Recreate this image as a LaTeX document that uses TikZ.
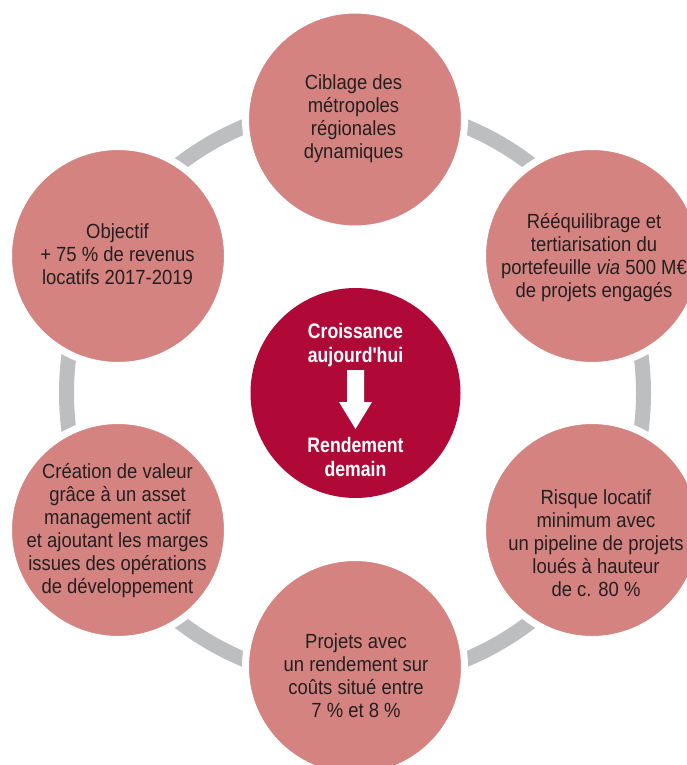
\documentclass[tikz,border=0pt]{standalone}
\usepackage{fontspec}
\setmainfont{Liberation Sans}[FakeStretch=0.9]
\newfontfamily\ctrfont{Liberation Sans}[FakeStretch=0.84]
\definecolor{bubblepink}{RGB}{213,131,128}
\definecolor{hubred}{RGB}{177,9,55}
\definecolor{ringgray}{RGB}{188,190,192}
\definecolor{textdark}{RGB}{35,31,32}
\begin{document}
\begin{tikzpicture}[x=1pt,y=-1pt,
  bubble/.style={circle, fill=bubblepink, draw=white, line width=7pt, minimum size=219pt, inner sep=0pt},
  hubstyle/.style={circle, fill=hubred, minimum size=210pt, inner sep=0pt},
  bubbletext/.style={align=center, text=textdark, inner sep=0pt, font=\fontsize{20.5}{23}\selectfont},
  hubtext/.style={align=center, text=white, inner sep=0pt, font=\ctrfont\bfseries\fontsize{21}{24}\selectfont},
  ringline/.style={draw=ringgray, line width=15pt}]
\useasboundingbox (0,0) rectangle (686,765);
\coordinate (O) at (355,393);
\draw[ringline] (O) circle[radius=288.5pt];
\node[bubble] (b1) at (355,119.5) {};
\node[bubble] (b2) at (592,256) {};
\node[bubble] (b3) at (592,530) {};
\node[bubble] (b4) at (355,667) {};
\node[bubble] (b5) at (118,530) {};
\node[bubble] (b6) at (118,256) {};
\node[hubstyle] (hub) at (355.5,393) {};
\node[bubbletext] (t1) at (353.5,118.5) {Ciblage des\\métropoles\\régionales\\dynamiques};
\node[bubbletext] (t2) at (594,257.5) {Rééquilibrage et\\tertiarisation du\\portefeuille \textit{via} 500 M€\\de projets engagés};
\node[bubbletext] (t3) at (596,543.5) {Risque locatif\\minimum avec\\un pipeline de projets\\loués à hauteur\\de c. 80 \%};
\node[bubbletext] (t4) at (356,676) {Projets avec\\un rendement sur\\coûts situé entre\\7 \% et 8 \%};
\node[bubbletext] (t5) at (117.5,531) {Création de valeur\\grâce à un asset\\management actif\\et ajoutant les marges\\issues des opérations\\de développement};
\node[bubbletext] (t6) at (117.5,254.5) {Objectif\\+ 75 \% de revenus\\locatifs 2017-2019};
\node[hubtext] (h1) at (355.5,345) {Croissance\\aujourd'hui};
\node[hubtext] (h2) at (355.5,456.5) {Rendement\\demain};
\fill[white] (hub.center) ++(-8.5,-23) -- ++(17,0) -- ++(0,32) -- ++(8,0) -- ++(-16.5,27) -- ++(-16.5,-27) -- ++(8,0) -- cycle;
\end{tikzpicture}
\end{document}
